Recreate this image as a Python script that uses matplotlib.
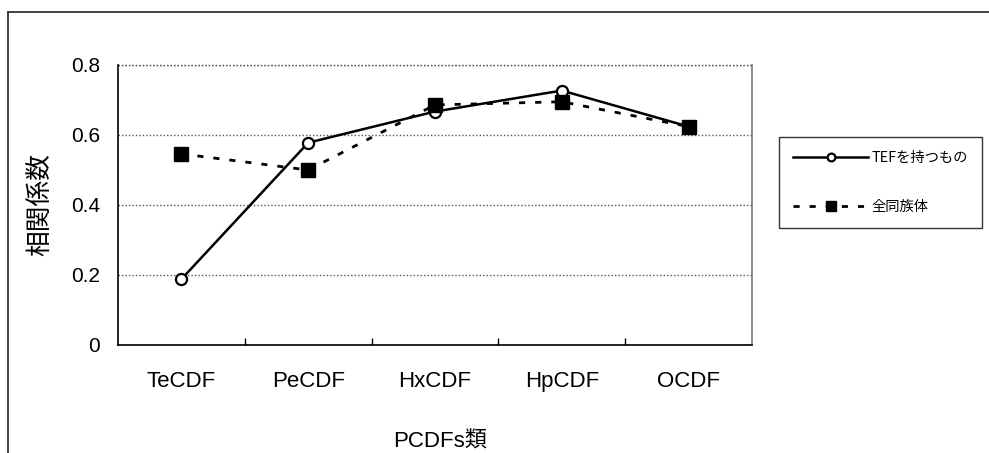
import matplotlib
matplotlib.use('Agg')
from matplotlib import pyplot as plt
from matplotlib.lines import Line2D

plt.rcParams['font.family'] = ['Liberation Sans', 'Noto Sans CJK JP']

categories = ['TeCDF', 'PeCDF', 'HxCDF', 'HpCDF', 'OCDF']
tef_values = [0.188, 0.578, 0.667, 0.727, 0.624]
all_values = [0.546, 0.500, 0.686, 0.695, 0.624]
series_names = ['TEFを持つもの', '全同族体']
y_ticks = [0, 0.2, 0.4, 0.6, 0.8]
y_ticklabels = ['0', '0.2', '0.4', '0.6', '0.8']

fig = plt.figure(figsize=(9.89, 4.53), dpi=100)
ax = fig.add_axes([118 / 989, 108 / 453, 634 / 989, 280 / 453])

x = list(range(len(categories)))
ax.plot(x, tef_values, '-', color='black', lw=1.8, marker='o', ms=8,
        mfc='white', mec='black', mew=1.6, label=series_names[0], zorder=3)
# squares sit on top of the circles where the two series overlap
ax.plot(x, all_values, color='black', lw=2.0, dashes=(2.2, 3.6),
        marker='s', ms=9.5, mfc='black', mec='black', label=series_names[1],
        zorder=4)

ax.set_xlim(-0.5, len(categories) - 0.5)
ax.set_ylim(0, 0.8)
ax.set_yticks(y_ticks)
ax.set_yticklabels(y_ticklabels)
ax.tick_params(axis='y', length=0, pad=13, labelsize=15)
ax.set_xticks(x)
ax.set_xticklabels(categories)
ax.tick_params(axis='x', which='major', length=0, pad=19, labelsize=16)
# category separators on the bottom axis
ax.set_xticks([i + 0.5 for i in x[:-1]], minor=True)
ax.tick_params(axis='x', which='minor', direction='in', length=5, width=1,
               color='black')

ax.yaxis.grid(True, color='#555555', linestyle=(0, (1, 1.5)), lw=1)
ax.set_axisbelow(True)
ax.spines['top'].set_visible(False)
ax.spines['left'].set_color('black')
ax.spines['left'].set_linewidth(1.2)
ax.spines['bottom'].set_color('black')
ax.spines['bottom'].set_linewidth(1.2)
ax.spines['right'].set_color('#777777')
ax.spines['right'].set_linewidth(1.2)
# dotted line at 0.8 standing in for the top edge
ax.axhline(0.8, color='#555555', linestyle=(0, (1, 1.5)), lw=1, clip_on=False)

ax.set_ylabel('相関係数', fontsize=18.5)
ax.yaxis.set_label_coords(-0.123, 0.5)
ax.yaxis.label.set_verticalalignment('center')
ax.set_xlabel('PCDFs類', fontsize=16)
ax.xaxis.set_label_coords(0.508, -0.345)
ax.xaxis.label.set_verticalalignment('center')

# legend box spans a fixed area to the right of the plot
leg = fig.legend(loc='upper left',
                 bbox_to_anchor=(779 / 989, 1 - 226 / 453, 203 / 989, 89 / 453),
                 mode='expand', frameon=True, fancybox=False,
                 edgecolor='black', handlelength=5.2, handletextpad=0.3,
                 labelspacing=2.4, borderpad=1.0, borderaxespad=0,
                 markerscale=0.7,
                 prop={'family': ['Noto Sans CJK JP'], 'size': 10.3})
leg.get_frame().set_linewidth(1.0)

# outer chart border
fig.add_artist(Line2D([7.5 / 989, 7.5 / 989], [0, 1 - 12 / 453],
                      color='#333333', lw=1.3, transform=fig.transFigure))
fig.add_artist(Line2D([7.5 / 989, 1], [1 - 12 / 453, 1 - 12 / 453],
                      color='#333333', lw=1.3, transform=fig.transFigure))

fig.savefig('out.png', dpi=100)
